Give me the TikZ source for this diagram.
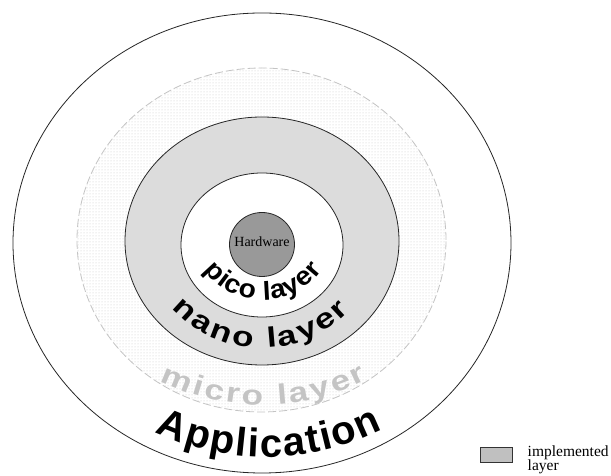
\documentclass[tikz,border=0pt]{standalone}
\usepackage{fontspec}
\setmainfont{Liberation Serif}
\newfontfamily\arcfont{Liberation Sans}
\newfontfamily\midarcfont[FakeStretch=1.08]{Liberation Sans}
\newfontfamily\widearcfont[FakeStretch=1.25]{Liberation Sans}
\usetikzlibrary{decorations.text,patterns}
\definecolor{nanofill}{HTML}{DCDCDC}
\definecolor{hwfill}{HTML}{999999}
\definecolor{microgray}{HTML}{C4C4C4}
\definecolor{legendfill}{HTML}{C0C0C0}

\begin{document}
\begin{tikzpicture}[x=1pt,y=1pt,
  ring/.style={draw=black!85, line width=0.8pt},
  arclabel/.style={decorate, decoration={text along path, text align=fit to path}},
  keyfont/.style={font=\fontsize{15.5}{15}\selectfont}
 ]
\useasboundingbox (0,0) rectangle (611,476);

% layers, from the outside in
\draw[ring, fill=white] (262,233) ellipse [x radius=249, y radius=230];
\draw[draw=microgray, dash pattern=on 8pt off 3pt, line width=0.8pt,
      pattern=dots, pattern color=black!22] (261.5,236) ellipse [x radius=184.5, y radius=172];
\draw[ring, fill=nanofill] (262,235) ellipse [x radius=137, y radius=124];
\draw[ring, fill=white] (262,231) ellipse [x radius=81, y radius=72];
\draw[ring, fill=hwfill] (262,231.5) ellipse [x radius=32.5, y radius=32];
\node[font=\fontsize{14}{14}\selectfont, inner sep=0] (hw) at (262,234) {Hardware};

% layer names bent along the lower part of each ring
\path[arclabel, decoration={text={|\midarcfont\bfseries\fontsize{26}{26}\selectfont|pico layer}}]
  (263,249) ++(216:73) arc[start angle=216, end angle=324, radius=73];
\path[arclabel, decoration={text={|\widearcfont\bfseries\fontsize{28}{28}\selectfont|nano layer}}]
  (262,250) ++(222.5:122) arc[start angle=222.5, end angle=316, radius=122];
\path[arclabel, decoration={text color=microgray,
      text={|\widearcfont\bfseries\fontsize{28}{28}\selectfont|micro layer}}]
  (263,301) ++(243.4:230) arc[start angle=243.4, end angle=296.9, radius=230];
\path[arclabel, decoration={text={|\arcfont\bfseries\fontsize{40}{40}\selectfont|Application}}]
  (267,279) ++(244.5:260) arc[start angle=244.5, end angle=296.5, radius=260];

% legend
\node[draw=black!80, fill=legendfill, line width=0.7pt, inner sep=0,
      minimum width=32, minimum height=15] (key) at (496,21.5) {};
\node[keyfont, anchor=base west, inner sep=0] (keyline1) at (527.5,19.3) {implemented};
\node[keyfont, anchor=base west, inner sep=0] (keyline2) at (527.5,5) {layer};
\end{tikzpicture}
\end{document}
